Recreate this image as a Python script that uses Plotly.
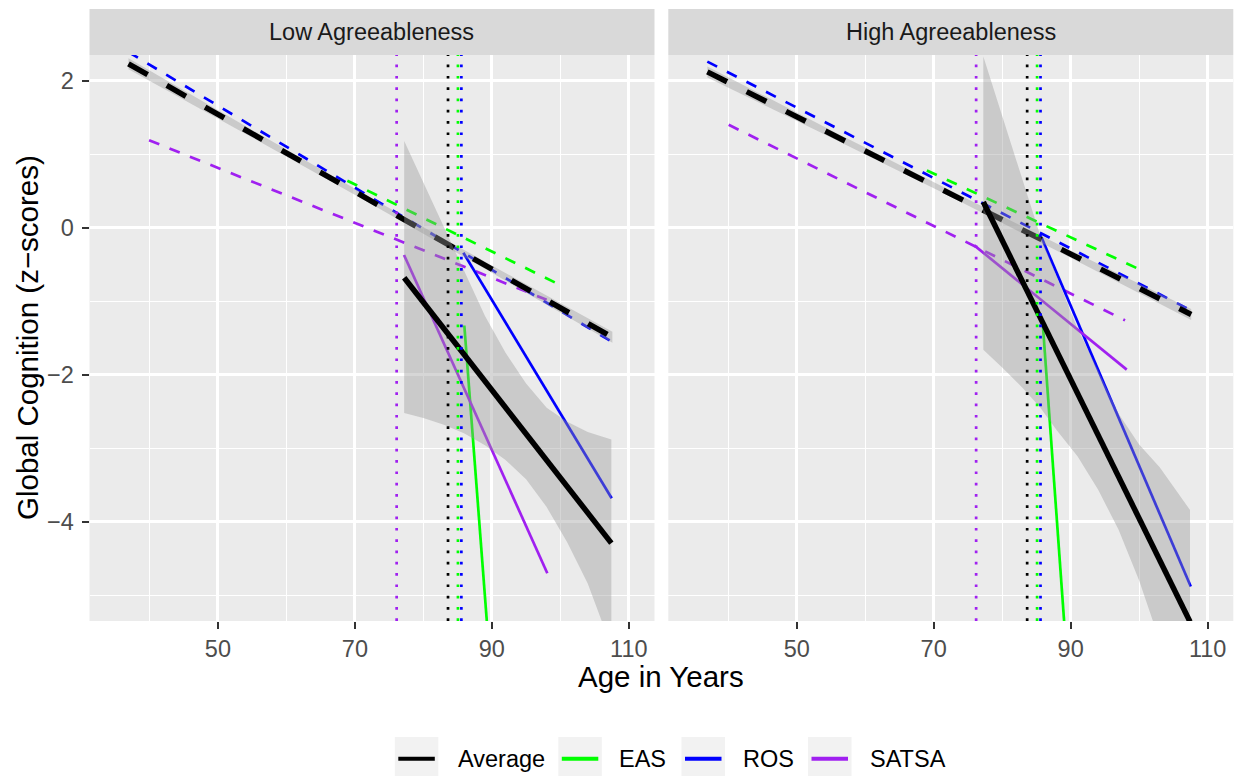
import plotly.graph_objects as go
from plotly.subplots import make_subplots

W, H = 1241, 776
FONT = "Liberation Sans, Arial, Helvetica, sans-serif"

# ---------------- data ----------------
panels = ["Low Agreeableness", "High Agreeableness"]
groups = ["Average", "EAS", "ROS", "SATSA"]
group_colors = ["#000000", "#00FF00", "#0000FF", "#A020F0"]

x_ticks = [50, 70, 90, 110]
x_minor = [40, 60, 80, 100]
y_ticks = [-4, -2, 0, 2]
y_minor = [-5, -3, -1, 1]

# change points (dotted vertical lines), order: SATSA, Average, EAS, ROS
vline_groups = ["SATSA", "Average", "EAS", "ROS"]
vline_age_low = [76.1, 83.6, 85.05, 85.55]
vline_age_high = [76.2, 83.65, 85.1, 85.6]

# pre-change trajectories (dashed) : [start, end]
low_pre_age = {"Average": [36.94, 107.6], "EAS": [68.9, 100.0], "ROS": [36.94, 107.5], "SATSA": [39.95, 98.0]}
low_pre_val = {"Average": [2.23, -1.49], "EAS": [0.64, -0.78], "ROS": [2.39, -1.55], "SATSA": [1.19, -0.98]}
high_pre_age = {"Average": [36.95, 107.6], "EAS": [69.0, 99.9], "ROS": [36.95, 107.9], "SATSA": [40.07, 97.94]}
high_pre_val = {"Average": [2.12, -1.18], "EAS": [0.78, -0.56], "ROS": [2.26, -1.14], "SATSA": [1.40, -1.26]}

# post-change trajectories (solid) : [start, end]
low_post_age = {"Average": [77.2, 107.45], "EAS": [85.98, 90.0], "ROS": [85.84, 107.5], "SATSA": [77.18, 98.1]}
low_post_val = {"Average": [-0.68, -4.29], "EAS": [-1.33, -6.25], "ROS": [-0.34, -3.68], "SATSA": [-0.37, -4.70]}
high_post_age = {"Average": [77.25, 107.43], "EAS": [85.95, 90.0], "ROS": [85.78, 107.54], "SATSA": [75.93, 98.19]}
high_post_val = {"Average": [0.35, -5.36], "EAS": [-1.33, -6.59], "ROS": [-0.14, -4.88], "SATSA": [-0.24, -1.93]}

# confidence band of the average pre-change line
low_pre_band_age = [36.94, 55, 72, 90, 107.6]
low_pre_band_hi = [2.305, 1.329, 0.424, -0.513, -1.415]
low_pre_band_lo = [2.155, 1.229, 0.344, -0.613, -1.565]
high_pre_band_age = [36.95, 55, 72, 90, 107.6]
high_pre_band_hi = [2.195, 1.327, 0.526, -0.308, -1.105]
high_pre_band_lo = [2.045, 1.227, 0.446, -0.408, -1.255]

# confidence band of the average post-change line
low_post_band_age = [77.2, 80, 83, 86, 89, 92, 95, 98, 101, 104, 107.45]
low_post_band_hi = [1.18, 0.61, 0.0, -0.60, -1.20, -1.70, -2.12, -2.45, -2.64, -2.78, -2.88]
low_post_band_lo = [-2.52, -2.59, -2.68, -2.80, -2.96, -3.16, -3.42, -3.80, -4.28, -4.84, -5.70]
high_post_band_age = [77.25, 80, 83, 85.5, 88, 91, 94, 97, 100, 103, 107.43]
high_post_band_hi = [2.33, 1.52, 0.64, -0.09, -0.67, -1.37, -1.94, -2.53, -2.95, -3.26, -3.84]
high_post_band_lo = [-1.66, -1.90, -2.18, -2.44, -2.76, -3.11, -3.56, -4.11, -4.80, -5.62, -6.88]

x_range = [31.25, 113.75]
y_range = [-5.35, 2.35]

# ---------------- figure ----------------
fig = make_subplots(rows=1, cols=2)
color_of = dict(zip(groups, group_colors))
BAND = "rgba(153,153,153,0.4)"

panel_data = [
    (low_pre_age, low_pre_val, low_post_age, low_post_val,
     low_pre_band_age, low_pre_band_hi, low_pre_band_lo,
     low_post_band_age, low_post_band_hi, low_post_band_lo, vline_age_low),
    (high_pre_age, high_pre_val, high_post_age, high_post_val,
     high_pre_band_age, high_pre_band_hi, high_pre_band_lo,
     high_post_band_age, high_post_band_hi, high_post_band_lo, vline_age_high),
]

for ci, pdata in enumerate(panel_data, start=1):
    (pre_a, pre_v, post_a, post_v, pb_a, pb_hi, pb_lo, qb_a, qb_hi, qb_lo, vl) = pdata
    # colored dashed pre-change lines
    for g in ["EAS", "ROS", "SATSA"]:
        fig.add_trace(go.Scatter(x=pre_a[g], y=pre_v[g], mode="lines", name=g,
                                 line=dict(color=color_of[g], width=2.7, dash="11px,11px"),
                                 showlegend=False, legendgroup=g), row=1, col=ci)
    # colored solid post-change lines
    for g in ["EAS", "ROS", "SATSA"]:
        fig.add_trace(go.Scatter(x=post_a[g], y=post_v[g], mode="lines", name=g,
                                 line=dict(color=color_of[g], width=2.7),
                                 showlegend=False, legendgroup=g), row=1, col=ci)
    # average pre-change band + dashed line
    fig.add_trace(go.Scatter(x=pb_a + pb_a[::-1], y=pb_hi + pb_lo[::-1], mode="lines",
                             fill="toself", fillcolor=BAND, line=dict(width=0),
                             showlegend=False, hoverinfo="skip"), row=1, col=ci)
    fig.add_trace(go.Scatter(x=pre_a["Average"], y=pre_v["Average"], mode="lines", name="Average",
                             line=dict(color="#000000", width=5.5, dash="22px,22px"),
                             showlegend=False, legendgroup="Average"), row=1, col=ci)
    # average post-change band + solid line
    fig.add_trace(go.Scatter(x=qb_a + qb_a[::-1], y=qb_hi + qb_lo[::-1], mode="lines",
                             fill="toself", fillcolor=BAND, line=dict(width=0),
                             showlegend=False, hoverinfo="skip"), row=1, col=ci)
    fig.add_trace(go.Scatter(x=post_a["Average"], y=post_v["Average"], mode="lines", name="Average",
                             line=dict(color="#000000", width=5.5),
                             showlegend=False, legendgroup="Average"), row=1, col=ci)
    # dotted change-point lines
    for g, a in zip(vline_groups, vl):
        fig.add_vline(x=a, line=dict(color=color_of[g], width=2.7, dash="2.7px,8.6px"),
                      row=1, col=ci)

# ---------------- layout ----------------
x_dom = [[89.5 / W, 654.5 / W], [668.3 / W, 1233.3 / W]]
y_dom = [1 - 621 / H, 1 - 55 / H]

TICK_SIZE = 23.5
TITLE_SIZE = 29.5
tickfont = dict(family=FONT, size=TICK_SIZE, color="#4D4D4D")
for i, ax in enumerate(["xaxis", "xaxis2"]):
    fig.layout[ax].update(
        domain=x_dom[i], range=x_range, tickvals=x_ticks, ticks="outside", ticklen=7,
        tickwidth=2, tickcolor="#333333", tickfont=tickfont, showgrid=True,
        gridcolor="white", gridwidth=2.7, zeroline=False, showline=False,
        automargin=False,
        minor=dict(tickvals=x_minor, showgrid=True, gridcolor="white", gridwidth=1.3, ticks=""),
    )
for i, ax in enumerate(["yaxis", "yaxis2"]):
    fig.layout[ax].update(
        domain=y_dom, range=y_range, tickvals=y_ticks, ticks="outside" if i == 0 else "",
        ticklen=7, tickwidth=2, tickcolor="#333333", tickfont=tickfont,
        showticklabels=(i == 0), showgrid=True, gridcolor="white", gridwidth=2.7,
        zeroline=False, showline=False, automargin=False, ticklabelstandoff=3,
        minor=dict(tickvals=y_minor, showgrid=True, gridcolor="white", gridwidth=1.3, ticks=""),
    )

shapes = []
annotations = []
# facet strips
for i, name in enumerate(panels):
    shapes.append(dict(type="rect", xref="paper", yref="paper", x0=x_dom[i][0], x1=x_dom[i][1],
                       y0=1 - 55 / H, y1=1 - 9 / H, fillcolor="#D9D9D9", line=dict(width=0),
                       layer="below"))
    annotations.append(dict(text=name, xref="paper", yref="paper",
                            x=(x_dom[i][0] + x_dom[i][1]) / 2, y=1 - 32 / H,
                            xanchor="center", yanchor="middle", showarrow=False,
                            font=dict(family=FONT, size=TICK_SIZE, color="#1A1A1A")))

# axis titles
annotations.append(dict(text="Age in Years", xref="paper", yref="paper", x=661 / W, y=1 - 676 / H,
                        xanchor="center", yanchor="middle", showarrow=False,
                        font=dict(family=FONT, size=TITLE_SIZE, color="#000000")))
annotations.append(dict(text="Global Cognition (z\u2212scores)", xref="paper", yref="paper",
                        x=27 / W, y=1 - 338 / H, xanchor="center", yanchor="middle",
                        textangle=-90, showarrow=False,
                        font=dict(family=FONT, size=TITLE_SIZE, color="#000000")))

# legend (ggplot-style keys)
key_left = [394.8, 558.3, 681.5, 808.0]
text_left = [455.8, 616.8, 740.7, 867.6]
key_size = 43.5
key_top = 737.0
key_mid = key_top + key_size / 2
for g, kl, tl in zip(groups, key_left, text_left):
    shapes.append(dict(type="rect", xref="paper", yref="paper", x0=kl / W, x1=(kl + key_size) / W,
                       y0=1 - (key_top + key_size) / H, y1=1 - key_top / H,
                       fillcolor="#F2F2F2", line=dict(width=0)))
    shapes.append(dict(type="line", xref="paper", yref="paper", x0=(kl + 3.5) / W,
                       x1=(kl + key_size - 3.5) / W, y0=1 - key_mid / H, y1=1 - key_mid / H,
                       line=dict(color=color_of[g], width=4)))
    annotations.append(dict(text=g, xref="paper", yref="paper", x=tl / W, y=1 - key_mid / H,
                            xanchor="left", yanchor="middle", showarrow=False,
                            font=dict(family=FONT, size=TICK_SIZE, color="#000000")))

fig.update_layout(
    template="none",
    width=W, height=H,
    margin=dict(l=0, r=0, t=0, b=0),
    paper_bgcolor="white",
    plot_bgcolor="#EBEBEB",
    showlegend=False,
    font=dict(family=FONT),
)
fig.layout.shapes = list(fig.layout.shapes) + [go.layout.Shape(**s) for s in shapes]
fig.layout.annotations = list(fig.layout.annotations) + [go.layout.Annotation(**a) for a in annotations]

fig.write_html("out.html",
               config={"displayModeBar": False},
               post_script="document.body.style.margin='0';document.body.style.overflow='hidden';")
